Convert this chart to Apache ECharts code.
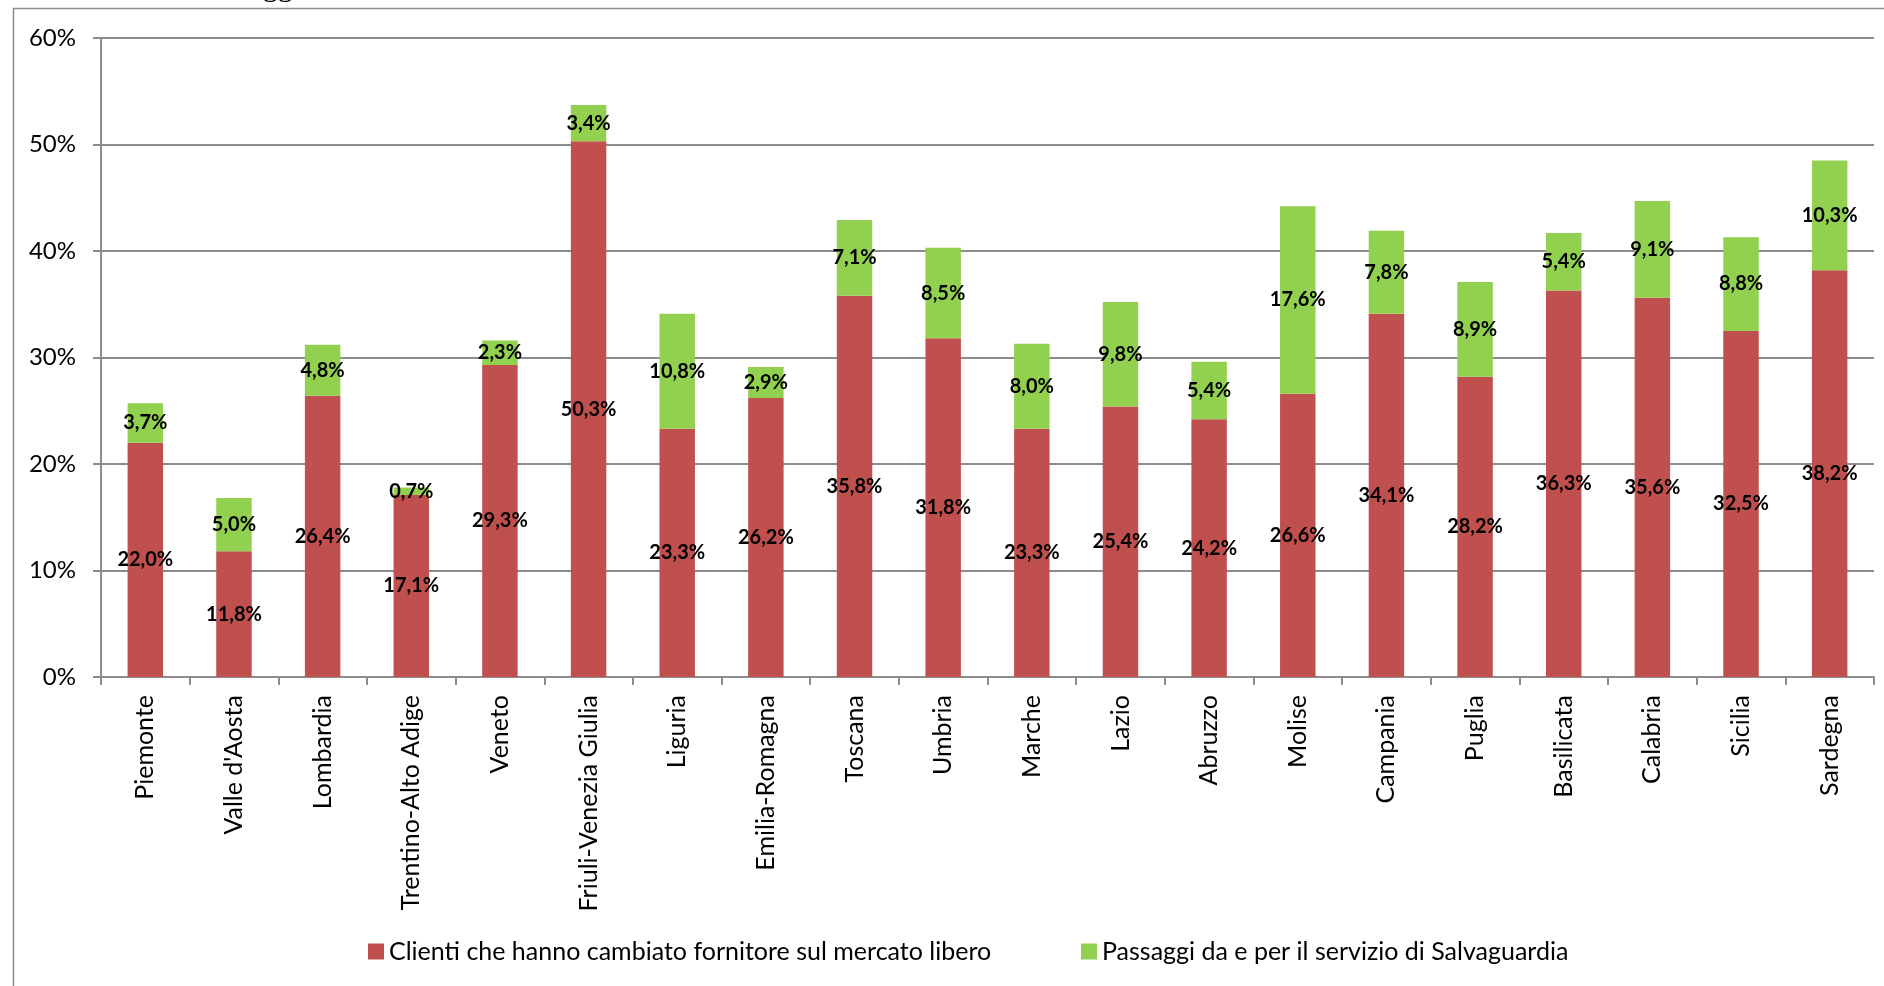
<!DOCTYPE html>
<html>
<head>
<meta charset="utf-8">
<title>Switching clienti per regione</title>
<script src="https://cdn.jsdelivr.net/npm/echarts@6/dist/echarts.min.js"></script>
<style>
  html, body { margin: 0; padding: 0; background: #fff; }
  #chart { width: 1884px; height: 986px; }
</style>
</head>
<body>
<div id="chart"></div>
<script>
// Regions on the category axis
const regions = [
  'Piemonte', "Valle d'Aosta", 'Lombardia', 'Trentino-Alto Adige', 'Veneto',
  'Friuli-Venezia Giulia', 'Liguria', 'Emilia-Romagna', 'Toscana', 'Umbria',
  'Marche', 'Lazio', 'Abruzzo', 'Molise', 'Campania', 'Puglia', 'Basilicata',
  'Calabria', 'Sicilia', 'Sardegna'
];

// Share of customers that changed supplier on the free market (%)
const mercatoLibero = [
  22.0, 11.8, 26.4, 17.1, 29.3, 50.3, 23.3, 26.2, 35.8, 31.8,
  23.3, 25.4, 24.2, 26.6, 34.1, 28.2, 36.3, 35.6, 32.5, 38.2
];

// Switches to and from the safeguard service (%)
const salvaguardia = [
  3.7, 5.0, 4.8, 0.7, 2.3, 3.4, 10.8, 2.9, 7.1, 8.5,
  8.0, 9.8, 5.4, 17.6, 7.8, 8.9, 5.4, 9.1, 8.8, 10.3
];

const seriesNames = [
  'Clienti che hanno cambiato fornitore sul mercato libero',
  'Passaggi da e per il servizio di Salvaguardia'
];

// Y axis ticks (%)
const yTicks = { min: 0, max: 60, interval: 10 };

const FONT = 'Lato';
const AXIS_GREY = '#8c8c8c';

const fmtPct = v => v.toFixed(1).replace('.', ',') + '%';

const chart = echarts.init(document.getElementById('chart'), null, { renderer: 'canvas' });

const labelStyle = {
  show: true,
  position: 'inside',
  color: '#000',
  fontFamily: FONT,
  fontWeight: 'bold',
  fontSize: 20,
  formatter: p => fmtPct(p.value)
};

chart.setOption({
  backgroundColor: '#ffffff',
  animation: false,
  textStyle: { fontFamily: FONT },
  graphic: [
    {
      // outer chart frame
      type: 'rect',
      shape: { x: 13.5, y: 8.5, width: 2000, height: 2000 },
      style: { fill: 'none', stroke: AXIS_GREY, lineWidth: 1.5 },
      silent: true
    },
    {
      // heading above the frame, mostly cut off by the page edge
      type: 'text',
      x: 196,
      y: -27,
      style: {
        text: 'Passaggi',
        font: '30px "Liberation Serif"',
        fill: '#000'
      },
      silent: true
    }
  ],
  grid: {
    left: 101,
    top: 38,
    right: 10,
    bottom: 309,
    containLabel: false
  },
  legend: [
    {
      data: [seriesNames[0]],
      left: 363,
      top: 934,
      icon: 'rect',
      itemWidth: 16,
      itemHeight: 16,
      textStyle: { fontFamily: FONT, fontSize: 25, color: '#000' }
    },
    {
      data: [seriesNames[1]],
      left: 1076,
      top: 934,
      icon: 'rect',
      itemWidth: 16,
      itemHeight: 16,
      textStyle: { fontFamily: FONT, fontSize: 25, color: '#000' }
    }
  ],
  xAxis: {
    type: 'category',
    data: regions,
    boundaryGap: true,
    axisLine: { show: true, lineStyle: { color: AXIS_GREY, width: 2 } },
    axisTick: { show: true, length: 8, alignWithLabel: false, lineStyle: { color: AXIS_GREY, width: 2 } },
    axisLabel: {
      rotate: 90,
      interval: 0,
      margin: 18,
      color: '#000',
      fontFamily: FONT,
      fontSize: 25
    }
  },
  yAxis: {
    type: 'value',
    min: yTicks.min,
    max: yTicks.max,
    interval: yTicks.interval,
    axisLine: { show: true, lineStyle: { color: AXIS_GREY, width: 2 } },
    axisTick: { show: true, length: 8, lineStyle: { color: AXIS_GREY, width: 2 } },
    axisLabel: {
      margin: 25,
      color: '#000',
      fontFamily: FONT,
      fontSize: 24,
      formatter: v => v + '%'
    },
    splitLine: { show: true, lineStyle: { color: AXIS_GREY, width: 2 } }
  },
  series: [
    {
      name: seriesNames[0],
      type: 'bar',
      stack: 'totale',
      barWidth: '40%',
      data: mercatoLibero,
      itemStyle: { color: '#C0504D' },
      label: labelStyle
    },
    {
      name: seriesNames[1],
      type: 'bar',
      stack: 'totale',
      barWidth: '40%',
      data: salvaguardia,
      itemStyle: { color: '#92D050' },
      label: labelStyle
    }
  ]
});
</script>
</body>
</html>
